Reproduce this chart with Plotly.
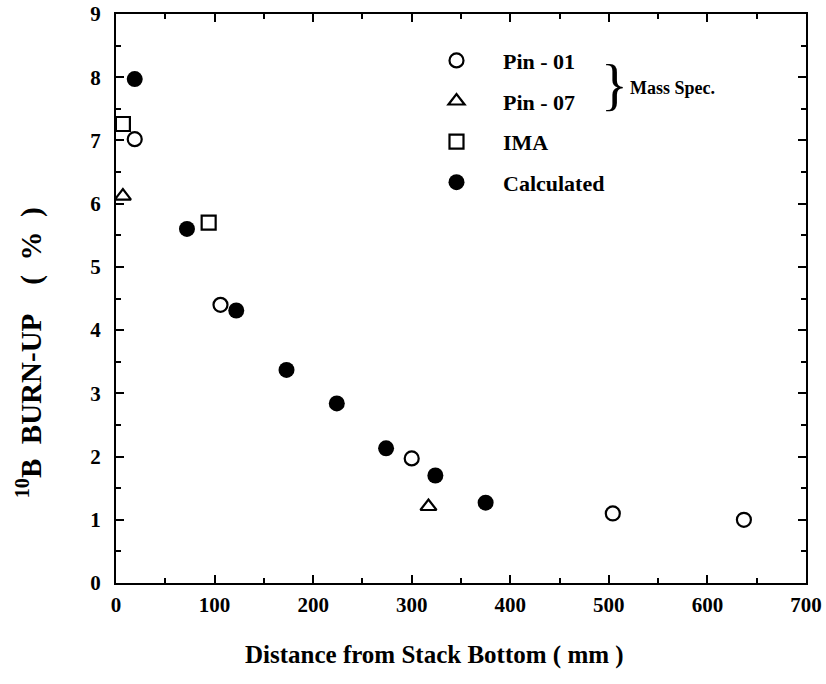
import plotly.graph_objects as go

# Data
pin01_x = [19, 106, 300, 504, 637]
pin01_y = [7.02, 4.40, 1.97, 1.10, 1.00]

pin07_x = [7, 317]
pin07_y = [6.12, 1.21]

ima_x = [7, 94]
ima_y = [7.26, 5.70]

calc_x = [19, 72, 122, 173, 224, 274, 324, 375]
calc_y = [7.97, 5.60, 4.31, 3.37, 2.84, 2.13, 1.70, 1.27]

FONT = "Liberation Serif"
NB = "\u00a0"

fig = go.Figure()
fig.add_trace(go.Scatter(x=pin01_x, y=pin01_y, mode="markers", name=NB * 3 + "Pin - 01", legendgroup="a",
                         marker=dict(symbol="circle-open", size=14, color="black", line=dict(width=2.2, color="black"))))
fig.add_trace(go.Scatter(x=pin07_x, y=pin07_y, mode="markers", name=NB * 3 + "Pin - 07", legendgroup="b",
                         marker=dict(symbol="triangle-up-open", size=14, color="black", line=dict(width=2.2, color="black"))))
fig.add_trace(go.Scatter(x=ima_x, y=ima_y, mode="markers", name=NB * 3 + "IMA", legendgroup="c",
                         marker=dict(symbol="square-open", size=14, color="black", line=dict(width=2.2, color="black"))))
fig.add_trace(go.Scatter(x=calc_x, y=calc_y, mode="markers", name=NB * 3 + "Calculated", legendgroup="d",
                         marker=dict(symbol="circle", size=16, color="black")))

axis_common = dict(
    showline=True, linewidth=2, linecolor="black", mirror="ticks",
    ticks="inside", ticklen=8, tickwidth=2, tickcolor="black",
    showgrid=False, zeroline=False, automargin=False,
    tickfont=dict(family=FONT, size=21, color="black", weight="bold"),
)

fig.update_xaxes(range=[0, 700], dtick=100, tick0=0,
                 minor=dict(dtick=50, ticks="inside", ticklen=5, tickwidth=2, tickcolor="black"),
                 ticklabelstandoff=2,
                 **axis_common)
fig.update_yaxes(range=[0, 9], dtick=1, tick0=0,
                 minor=dict(dtick=0.5, ticks="inside", ticklen=5, tickwidth=2, tickcolor="black"),
                 ticklabelstandoff=9,
                 **axis_common)

# Axis titles (placed as in the reference, which is off-centre)
fig.add_annotation(x=0.462, y=-0.127, xref="paper", yref="paper",
                   text="Distance from Stack Bottom ( mm )", showarrow=False,
                   font=dict(family=FONT, size=25, color="black", weight="bold"),
                   xanchor="center", yanchor="middle")
fig.add_annotation(x=-0.125, y=0.405, xref="paper", yref="paper",
                   text="<sup>10</sup>B" + NB * 2 + "BURN-UP" + NB * 4 + "(" + NB * 2 + "%" + NB * 2 + ")",
                   showarrow=False, textangle=-90,
                   font=dict(family=FONT, size=29, color="black", weight="bold"),
                   xanchor="center", yanchor="middle")

fig.add_annotation(x=0.723, y=0.875, xref="paper", yref="paper", text="}", showarrow=False,
                   font=dict(family=FONT, size=56, color="black"), xanchor="center", yanchor="middle")
fig.add_annotation(x=0.742, y=0.870, xref="paper", yref="paper", text="Mass Spec.", showarrow=False,
                   font=dict(family=FONT, size=18, color="black", weight="bold"), xanchor="left", yanchor="middle")

fig.update_layout(
    width=826, height=684,
    margin=dict(l=116, r=20, t=14, b=101),
    plot_bgcolor="white", paper_bgcolor="white",
    showlegend=True,
    legend=dict(x=0.45, y=0.955, xanchor="left", yanchor="top", traceorder="grouped",
                tracegroupgap=9, itemwidth=50, bgcolor="rgba(0,0,0,0)",
                font=dict(family=FONT, size=22, color="black", weight="bold")),
)

# Remove the default page margin so the figure sits at the window's top-left corner
fig.write_html("out.html", config={"displayModeBar": False},
               post_script="document.body.style.margin='0';")
